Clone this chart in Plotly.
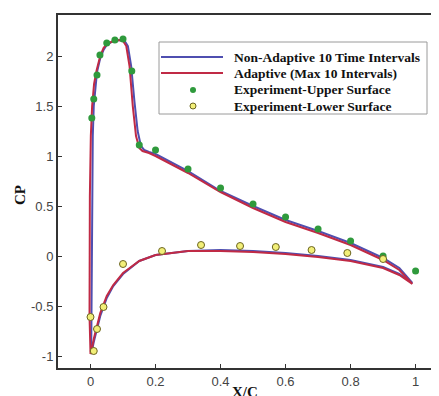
import plotly.graph_objects as go

# Non-adaptive 10 time intervals (blue)
na_x = [0.99, 0.95, 0.9, 0.8, 0.7, 0.6, 0.5, 0.4, 0.3, 0.2, 0.15, 0.1, 0.07, 0.05, 0.03, 0.02, 0.01, 0.005, 0.002,
        0.003, 0.004, 0.005, 0.007, 0.01, 0.015, 0.02, 0.03, 0.04, 0.05, 0.07, 0.09, 0.105, 0.115, 0.125, 0.135,
        0.145, 0.155, 0.165, 0.18, 0.2, 0.3, 0.4, 0.5, 0.6, 0.7, 0.8, 0.9, 0.95, 0.99]
na_y = [-0.27, -0.18, -0.11, -0.04, 0.0, 0.03, 0.05, 0.06, 0.05, 0.01, -0.05, -0.18, -0.3, -0.42, -0.6, -0.72, -0.86, -0.94, -0.98,
        -0.6, 0.0, 0.6, 1.2, 1.5, 1.7, 1.84, 1.98, 2.06, 2.11, 2.15, 2.16, 2.15, 2.1, 1.9, 1.55,
        1.25, 1.1, 1.06, 1.04, 1.02, 0.85, 0.65, 0.5, 0.36, 0.25, 0.13, -0.02, -0.12, -0.27]

# Adaptive (max 10 intervals) (red)
ad_x = [0.99, 0.95, 0.9, 0.8, 0.7, 0.6, 0.5, 0.4, 0.3, 0.2, 0.15, 0.1, 0.07, 0.05, 0.03, 0.02, 0.01, 0.004, 0.0,
        -0.003, -0.003, -0.002, 0.001, 0.005, 0.011, 0.019, 0.03, 0.04, 0.05, 0.07, 0.09, 0.1, 0.11, 0.12, 0.13,
        0.14, 0.15, 0.16, 0.18, 0.2, 0.3, 0.4, 0.5, 0.6, 0.7, 0.8, 0.9, 0.95, 0.99]
ad_y = [-0.28, -0.19, -0.12, -0.05, -0.01, 0.02, 0.04, 0.05, 0.05, 0.01, -0.05, -0.17, -0.29, -0.4, -0.57, -0.69, -0.83, -0.93, -0.98,
        -0.6, 0.0, 0.6, 1.2, 1.5, 1.72, 1.86, 2.0, 2.08, 2.12, 2.15, 2.16, 2.15, 2.1, 1.9, 1.5,
        1.2, 1.08, 1.05, 1.03, 1.0, 0.83, 0.64, 0.48, 0.34, 0.23, 0.11, -0.04, -0.14, -0.28]

# Experiment - upper surface
up_x = [0.004, 0.01, 0.02, 0.029, 0.05, 0.075, 0.10, 0.127, 0.15, 0.2, 0.30, 0.40, 0.50, 0.60, 0.70, 0.80, 0.90, 1.0]
up_y = [1.38, 1.57, 1.81, 2.01, 2.13, 2.16, 2.17, 1.85, 1.11, 1.06, 0.87, 0.68, 0.52, 0.39, 0.27, 0.15, 0.0, -0.15]

# Experiment - lower surface
lo_x = [0.0, 0.01, 0.02, 0.04, 0.10, 0.22, 0.34, 0.46, 0.57, 0.68, 0.79, 0.90]
lo_y = [-0.61, -0.95, -0.73, -0.51, -0.08, 0.05, 0.11, 0.10, 0.09, 0.06, 0.03, -0.03]

x_ticks = [0, 0.2, 0.4, 0.6, 0.8, 1]
y_ticks = [-1, -0.5, 0, 0.5, 1, 1.5, 2]

legend_names = ["Non-Adaptive 10 Time Intervals", "Adaptive (Max 10 Intervals)",
                "Experiment-Upper Surface", "Experiment-Lower Surface"]

BLUE = "#4f4fb0"
RED = "#c02a45"
GREEN = "#2f9a3c"
YELLOW = "#f2ef78"
YEDGE = "#6b6420"

OFF = 8  # default page body margin
W, H = 439 - OFF, 396 - OFF
L, R, T, B = 58 - OFF, 0, 15 - OFF, 396 - 368
PW, PH = W - L - R, H - T - B


def px(x):
    # page pixel x -> paper coordinate
    return (x - OFF - L) / PW


def py(y):
    # page pixel y -> paper coordinate
    return (H - B - (y - OFF)) / PH


fig = go.Figure()
fig.add_trace(go.Scatter(x=na_x, y=na_y, mode="lines", name=legend_names[0],
                         line=dict(color=BLUE, width=2)))
fig.add_trace(go.Scatter(x=ad_x, y=ad_y, mode="lines", name=legend_names[1],
                         line=dict(color=RED, width=2)))
fig.add_trace(go.Scatter(x=up_x, y=up_y, mode="markers", name=legend_names[2],
                         marker=dict(color=GREEN, size=7, line=dict(width=0))))
fig.add_trace(go.Scatter(x=lo_x, y=lo_y, mode="markers", name=legend_names[3],
                         marker=dict(color=YELLOW, size=7, line=dict(color=YEDGE, width=1))))

axis_common = dict(showgrid=False, zeroline=False, showline=True, linecolor="#333333", linewidth=2,
                   ticks="inside", ticklen=4, tickcolor="#333333", tickwidth=1, automargin=False,
                   tickfont=dict(family="Liberation Sans, Arial", size=13, color="#444444"))

# manual legend (box, samples, labels)
shapes = [dict(type="rect", xref="paper", yref="paper", x0=px(159), x1=px(427), y0=py(42), y1=py(114),
               line=dict(color="#9a9a9a", width=1), fillcolor="white", layer="above")]
rows_y = [57, 73, 90, 106]
shapes.append(dict(type="line", xref="paper", yref="paper", x0=px(161), x1=px(223), y0=py(rows_y[0]), y1=py(rows_y[0]),
                   line=dict(color=BLUE, width=2), layer="above"))
shapes.append(dict(type="line", xref="paper", yref="paper", x0=px(161), x1=px(223), y0=py(rows_y[1]), y1=py(rows_y[1]),
                   line=dict(color=RED, width=2), layer="above"))
shapes.append(dict(type="circle", xref="paper", yref="paper", x0=px(190), x1=px(196), y0=py(rows_y[2] + 3), y1=py(rows_y[2] - 3),
                   line=dict(width=0), fillcolor=GREEN, layer="above"))
shapes.append(dict(type="circle", xref="paper", yref="paper", x0=px(190), x1=px(196), y0=py(rows_y[3] + 3), y1=py(rows_y[3] - 3),
                   line=dict(color=YEDGE, width=1), fillcolor=YELLOW, layer="above"))

annotations = []
for name, ry in zip(legend_names, rows_y):
    annotations.append(dict(xref="paper", yref="paper", x=px(232), y=py(ry), xanchor="left", yanchor="middle",
                            text="<b>" + name + "</b>", showarrow=False,
                            font=dict(family="Liberation Serif, Times New Roman", size=13.5, color="#111111")))
annotations.append(dict(xref="paper", yref="paper", x=px(245), y=py(392), xanchor="center", yanchor="middle",
                        text="<b>X/C</b>", showarrow=False,
                        font=dict(family="Liberation Serif, Times New Roman", size=15, color="#111111")))
annotations.append(dict(xref="paper", yref="paper", x=px(20), y=py(195), xanchor="center", yanchor="middle",
                        text="<b>CP</b>", showarrow=False, textangle=-90,
                        font=dict(family="Liberation Serif, Times New Roman", size=15, color="#111111")))

fig.update_layout(
    width=W, height=H,
    margin=dict(l=L, r=R, t=T, b=B),
    plot_bgcolor="white", paper_bgcolor="white",
    showlegend=False,
    xaxis=dict(range=[-0.1, 1.072], tickvals=x_ticks, ticktext=[str(v) for v in x_ticks],
               mirror=True, **axis_common),
    yaxis=dict(range=[-1.12, 2.41], tickvals=y_ticks, ticktext=[str(v) for v in y_ticks],
               **axis_common),
    shapes=shapes,
    annotations=annotations,
)

fig.write_html("out.html")
